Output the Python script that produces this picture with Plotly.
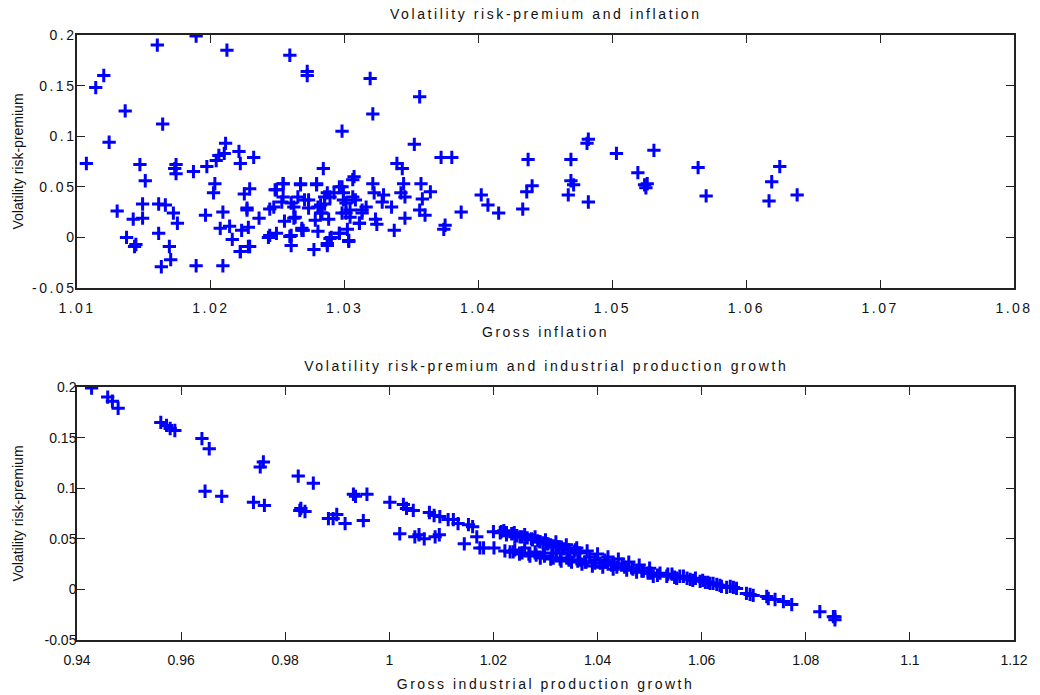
import plotly.graph_objects as go
from plotly.subplots import make_subplots

# ---- Top panel: gross inflation vs volatility risk-premium ----
infl_x = [1.0107, 1.0114, 1.0120, 1.0124, 1.0136, 1.0130, 1.0137, 1.0142, 1.0143, 1.0144,
          1.0147, 1.0149, 1.0149, 1.0151, 1.0160, 1.0161, 1.0161, 1.0164, 1.0166, 1.0163,
          1.0169, 1.0170, 1.0172, 1.0175, 1.0173, 1.0174, 1.0174, 1.0187, 1.0189, 1.0189,
          1.0196, 1.0197, 1.0203, 1.0202, 1.0204, 1.0206, 1.0209, 1.0209, 1.0207, 1.0211,
          1.0212, 1.0210, 1.0214, 1.0216, 1.0221, 1.0222, 1.0222, 1.0223, 1.0225, 1.0227,
          1.0228, 1.0229, 1.0232, 1.0228, 1.0227, 1.0236, 1.0243, 1.0244, 1.0248, 1.0249,
          1.0254, 1.0253, 1.0255, 1.0259, 1.0260, 1.0260, 1.0262, 1.0262, 1.0267, 1.0268,
          1.0269, 1.0272, 1.0272, 1.0270, 1.0273, 1.0277, 1.0279, 1.0278, 1.0280, 1.0284,
          1.0282, 1.0285, 1.0283, 1.0288, 1.0287, 1.0290, 1.0292, 1.0296, 1.0298, 1.0298,
          1.0299, 1.0301, 1.0302, 1.0303, 1.0304, 1.0306, 1.0307, 1.0308, 1.0311, 1.0313,
          1.0316, 1.0319, 1.0321, 1.0321, 1.0322, 1.0323, 1.0324, 1.0329, 1.0328, 1.0335,
          1.0337, 1.0339, 1.0343, 1.0342, 1.0344, 1.0345, 1.0345, 1.0352, 1.0356, 1.0357,
          1.0356, 1.0358, 1.0360, 1.0364, 1.0372, 1.0380, 1.0374, 1.0375, 1.0387, 1.0402,
          1.0407, 1.0415, 1.0433, 1.0437, 1.0436, 1.0440, 1.0467, 1.0469, 1.0469, 1.0471,
          1.0481, 1.0482, 1.0482, 1.0503, 1.0519, 1.0524, 1.0526, 1.0525, 1.0531, 1.0564,
          1.0570, 1.0617, 1.0619, 1.0625, 1.0638,
          1.0249, 1.0254, 1.0254, 1.0247, 1.0260, 1.0263, 1.0267, 1.0265, 1.0273, 1.0279,
          1.0280, 1.0282, 1.0287, 1.0285, 1.0289, 1.0296, 1.0299, 1.0301, 1.0298, 1.0304,
          1.0306, 1.0311, 1.0313, 1.0268, 1.0259, 1.0244, 1.0229, 1.0222, 1.0287, 1.0289,
          1.0296, 1.0303]
infl_y = [0.073, 0.148, 0.160, 0.094, 0.125, 0.026, 0.000, 0.018, -0.009, -0.007,
          0.072, 0.033, 0.019, 0.056, 0.190, 0.033, 0.004, 0.112, 0.032, -0.029,
          -0.009, -0.022, 0.024, 0.014, 0.068, 0.072, 0.063, 0.065, 0.199, -0.028,
          0.022, 0.070, 0.053, 0.044, 0.076, 0.081, 0.025, -0.028, 0.009, 0.093,
          0.185, 0.083, 0.011, -0.002, 0.085, 0.073, -0.014, 0.007, 0.043, 0.029,
          -0.009, 0.048, 0.079, 0.010, 0.027, 0.019, 0.000, 0.028, 0.047, 0.004,
          0.053, 0.035, 0.016, 0.180, -0.008, 0.002, 0.030, 0.019, 0.052, 0.009,
          0.007, 0.164, 0.160, 0.037, 0.029, -0.012, 0.052, 0.017, 0.006, 0.068,
          0.032, 0.040, 0.024, 0.018, -0.008, 0.000, 0.044, 0.004, 0.105, 0.050,
          0.037, 0.024, 0.008, -0.004, 0.020, 0.057, 0.060, 0.037, 0.014, 0.024,
          0.030, 0.157, 0.122, 0.053, 0.044, 0.018, 0.013, 0.042, 0.035, 0.030,
          0.007, 0.073, 0.068, 0.044, 0.053, 0.040, 0.019, 0.092, 0.139, 0.053,
          0.027, 0.038, 0.022, 0.045, 0.079, 0.079, 0.008, 0.012, 0.025, 0.042,
          0.032, 0.024, 0.028, 0.077, 0.045, 0.051, 0.042, 0.077, 0.056, 0.052,
          0.093, 0.097, 0.035, 0.083, 0.064, 0.052, 0.053, 0.049, 0.086, 0.069,
          0.041, 0.036, 0.055, 0.070, 0.042,
          0.047, 0.053, 0.040, 0.030, 0.034, 0.020, 0.053, 0.040, 0.037, 0.053,
          0.030, 0.024, 0.044, 0.033, 0.040, 0.050, 0.044, 0.034, 0.024, 0.027,
          0.040, 0.014, 0.027, 0.007, 0.001, 0.002, -0.009, -0.014, -0.006, -0.001,
          0.004, -0.003]

# ---- Bottom panel: gross industrial production growth vs volatility risk-premium ----
ip_x = [0.9428, 0.9459, 0.9468, 0.9479, 0.9561, 0.9572, 0.9579, 0.9588, 0.9640, 0.9654,
        0.9646, 0.9678, 0.9739, 0.9760, 0.9752, 0.9758, 0.9825, 0.9854, 0.9828, 0.9838,
        0.9830, 0.9883, 0.9892, 0.9899, 0.9915, 0.9931, 0.9935, 0.9957, 0.9950, 1.0001,
        1.0020, 1.0027, 1.0033, 1.0046, 1.0049, 1.0057, 1.0067, 1.0077, 1.0086, 1.0088,
        1.0096, 1.0097, 1.0113, 1.0123, 1.0132, 1.0144, 1.0152, 1.0160, 1.0168, 1.0174,
        1.0181, 1.0200, 1.0201, 1.0213, 1.0225, 1.0232, 1.0241, 1.0241,
        1.0251, 1.0260, 1.0273, 1.0280, 1.0289, 1.0296, 1.0302, 1.0312, 1.0321, 1.0331,
        1.0341, 1.0347, 1.0357, 1.0366, 1.0376, 1.0385, 1.0395, 1.0405, 1.0414, 1.0427,
        1.0437, 1.0447, 1.0456, 1.0466, 1.0475, 1.0488, 1.0497, 1.0507, 1.0520, 1.0533,
        1.0543, 1.0552, 1.0565, 1.0578, 1.0588, 1.0597, 1.0607, 1.0616, 1.0629, 1.0638,
        1.0648, 1.0661, 1.0686, 1.0693, 1.0699, 1.0725, 1.0728, 1.0741, 1.0757, 1.0773,
        1.0827, 1.0853, 1.0856, 1.0856,
        1.0220, 1.0240, 1.0260, 1.0280, 1.0300, 1.0320, 1.0340, 1.0360, 1.0380, 1.0400,
        1.0420, 1.0440, 1.0460, 1.0480, 1.0500,
        1.0250, 1.0270, 1.0290, 1.0310, 1.0330, 1.0350, 1.0370, 1.0390, 1.0410, 1.0430,
        1.0215, 1.0225, 1.0235, 1.0245, 1.0255, 1.0265, 1.0275, 1.0285, 1.0295, 1.0305,
        1.0315, 1.0325, 1.0335, 1.0345, 1.0355, 1.0365,
        1.0222, 1.0238, 1.0255, 1.0268, 1.0282, 1.0298, 1.0315, 1.0328, 1.0345, 1.0362,
        1.0378, 1.0395,
        1.0415, 1.0432, 1.0452, 1.0468, 1.0485, 1.0502, 1.0515, 1.0535, 1.0548, 1.0558,
        1.0572, 1.0583, 1.0602, 1.0612, 1.0622, 1.0635, 1.0655, 1.0667]
ip_y = [0.199, 0.190, 0.186, 0.179, 0.165, 0.162, 0.159, 0.157, 0.149, 0.139,
        0.097, 0.092, 0.086, 0.083, 0.121, 0.126, 0.112, 0.105, 0.078, 0.077,
        0.080, 0.070, 0.070, 0.074, 0.065, 0.094, 0.092, 0.094, 0.068, 0.086,
        0.055, 0.084, 0.080, 0.078, 0.052, 0.054, 0.050, 0.076, 0.073, 0.052,
        0.054, 0.072, 0.069, 0.069, 0.065, 0.045, 0.064, 0.062, 0.052, 0.041,
        0.041, 0.057, 0.041, 0.056, 0.054, 0.037, 0.052, 0.039,
        0.052, 0.041, 0.050, 0.037, 0.047, 0.036, 0.045, 0.042, 0.036, 0.041,
        0.031, 0.036, 0.039, 0.029, 0.027, 0.032, 0.029, 0.026, 0.029, 0.024,
        0.022, 0.025, 0.019, 0.021, 0.017, 0.018, 0.016, 0.013, 0.016, 0.013,
        0.015, 0.011, 0.013, 0.010, 0.011, 0.008, 0.007, 0.006, 0.005, 0.003,
        0.002, 0.002, -0.004, -0.005, -0.006, -0.007, -0.009, -0.010, -0.012, -0.015,
        -0.022, -0.027, -0.027, -0.030,
        0.058, 0.056, 0.054, 0.052, 0.049, 0.047, 0.044, 0.041, 0.038, 0.035,
        0.032, 0.030, 0.027, 0.024, 0.021,
        0.035, 0.033, 0.031, 0.030, 0.028, 0.027, 0.025, 0.023, 0.022, 0.020,
        0.057, 0.056, 0.055, 0.053, 0.052, 0.051, 0.049, 0.048, 0.046, 0.045,
        0.043, 0.042, 0.040, 0.039, 0.037, 0.036,
        0.038, 0.037, 0.036, 0.035, 0.034, 0.033, 0.031, 0.030, 0.029, 0.028,
        0.027, 0.026,
        0.027, 0.025, 0.022, 0.020, 0.018, 0.016, 0.014, 0.015, 0.012, 0.013,
        0.011, 0.009, 0.009, 0.007, 0.006, 0.004, 0.003, 0.001]

top_xticks = [1.01, 1.02, 1.03, 1.04, 1.05, 1.06, 1.07, 1.08]
top_xlabels = ["1.01", "1.02", "1.03", "1.04", "1.05", "1.06", "1.07", "1.08"]
bot_xticks = [0.94, 0.96, 0.98, 1.0, 1.02, 1.04, 1.06, 1.08, 1.1, 1.12]
bot_xlabels = ["0.94", "0.96", "0.98", "1", "1.02", "1.04", "1.06", "1.08", "1.1", "1.12"]
yticks = [-0.05, 0, 0.05, 0.1, 0.15, 0.2]
ylabels = ["-0.05", "0", "0.05", "0.1", "0.15", "0.2"]

top_title = "Volatility risk-premium and inflation"
bot_title = "Volatility risk-premium and industrial production growth"
top_xtitle = "Gross inflation"
bot_xtitle = "Gross industrial production growth"
ytitle = "Volatility risk-premium"

W, H = 1040, 695
ml, mr, mt, mb = 77, 26, 35, 55
ph = H - mt - mb

def yd(top_px, bot_px):
    return [(H - mb - bot_px) / ph, (H - mb - top_px) / ph]

fig = make_subplots(rows=2, cols=1)
fig.update_layout(
    yaxis=dict(domain=yd(35, 288)),
    yaxis2=dict(domain=yd(387, 640)),
)

marker = dict(symbol="cross-thin", size=9.5, color="#0000ff",
              line=dict(color="#0000ff", width=3))
fig.add_trace(go.Scatter(x=infl_x, y=infl_y, mode="markers", marker=marker,
                         showlegend=False), row=1, col=1)
fig.add_trace(go.Scatter(x=ip_x, y=ip_y, mode="markers", marker=marker,
                         showlegend=False), row=2, col=1)

font_family = "Liberation Sans, Arial, sans-serif"
txt = "#111"
axis_common = dict(showline=True, linecolor="#222", linewidth=1.5, mirror="allticks",
                   ticks="inside", ticklen=8, tickcolor="#222", tickwidth=1.2,
                   showgrid=False, zeroline=False, automargin=False,
                   tickfont=dict(family=font_family, size=14, color=txt))

fig.update_xaxes(range=[1.01, 1.08], tickvals=top_xticks, ticktext=top_xlabels,
                 ticklabelstandoff=6,
                 title=dict(text=top_xtitle, standoff=13,
                            font=dict(family=font_family, size=14, color=txt)),
                 **axis_common, row=1, col=1)
fig.update_xaxes(range=[0.94, 1.12], tickvals=bot_xticks, ticktext=bot_xlabels,
                 ticklabelstandoff=6,
                 title=dict(text=bot_xtitle, standoff=13,
                            font=dict(family=font_family, size=14, color=txt)),
                 **axis_common, row=2, col=1)
for r in (1, 2):
    fig.update_yaxes(range=[-0.05, 0.2], tickvals=yticks, ticktext=ylabels,
                     ticklabelstandoff=-4,
                     title=dict(text=ytitle, standoff=18,
                                font=dict(family=font_family, size=14, color=txt)),
                     **axis_common, row=r, col=1)

fig.update_layout(
    width=W, height=H,
    margin=dict(l=ml, r=mr, t=mt, b=mb),
    plot_bgcolor="white", paper_bgcolor="white",
    annotations=[
        dict(text=top_title, x=0.5, xref="paper", y=(H - mb - 14) / ph, yref="paper",
             yanchor="middle", showarrow=False,
             font=dict(family=font_family, size=14, color=txt)),
        dict(text=bot_title, x=0.5, xref="paper", y=(H - mb - 366) / ph, yref="paper",
             yanchor="middle", showarrow=False,
             font=dict(family=font_family, size=14, color=txt)),
    ],
)

post = """
document.body.style.margin = '0';
document.body.style.padding = '0';
var els = document.querySelectorAll('.xtick text, .ytick text, .xtitle, .x2title, .annotation-text');
els.forEach(function(e){ e.style.letterSpacing = e.classList.contains('annotation-text') ? '2.6px' : '2.5px'; });
"""
fig.write_html("out.html", post_script=post, config={"displayModeBar": False})
